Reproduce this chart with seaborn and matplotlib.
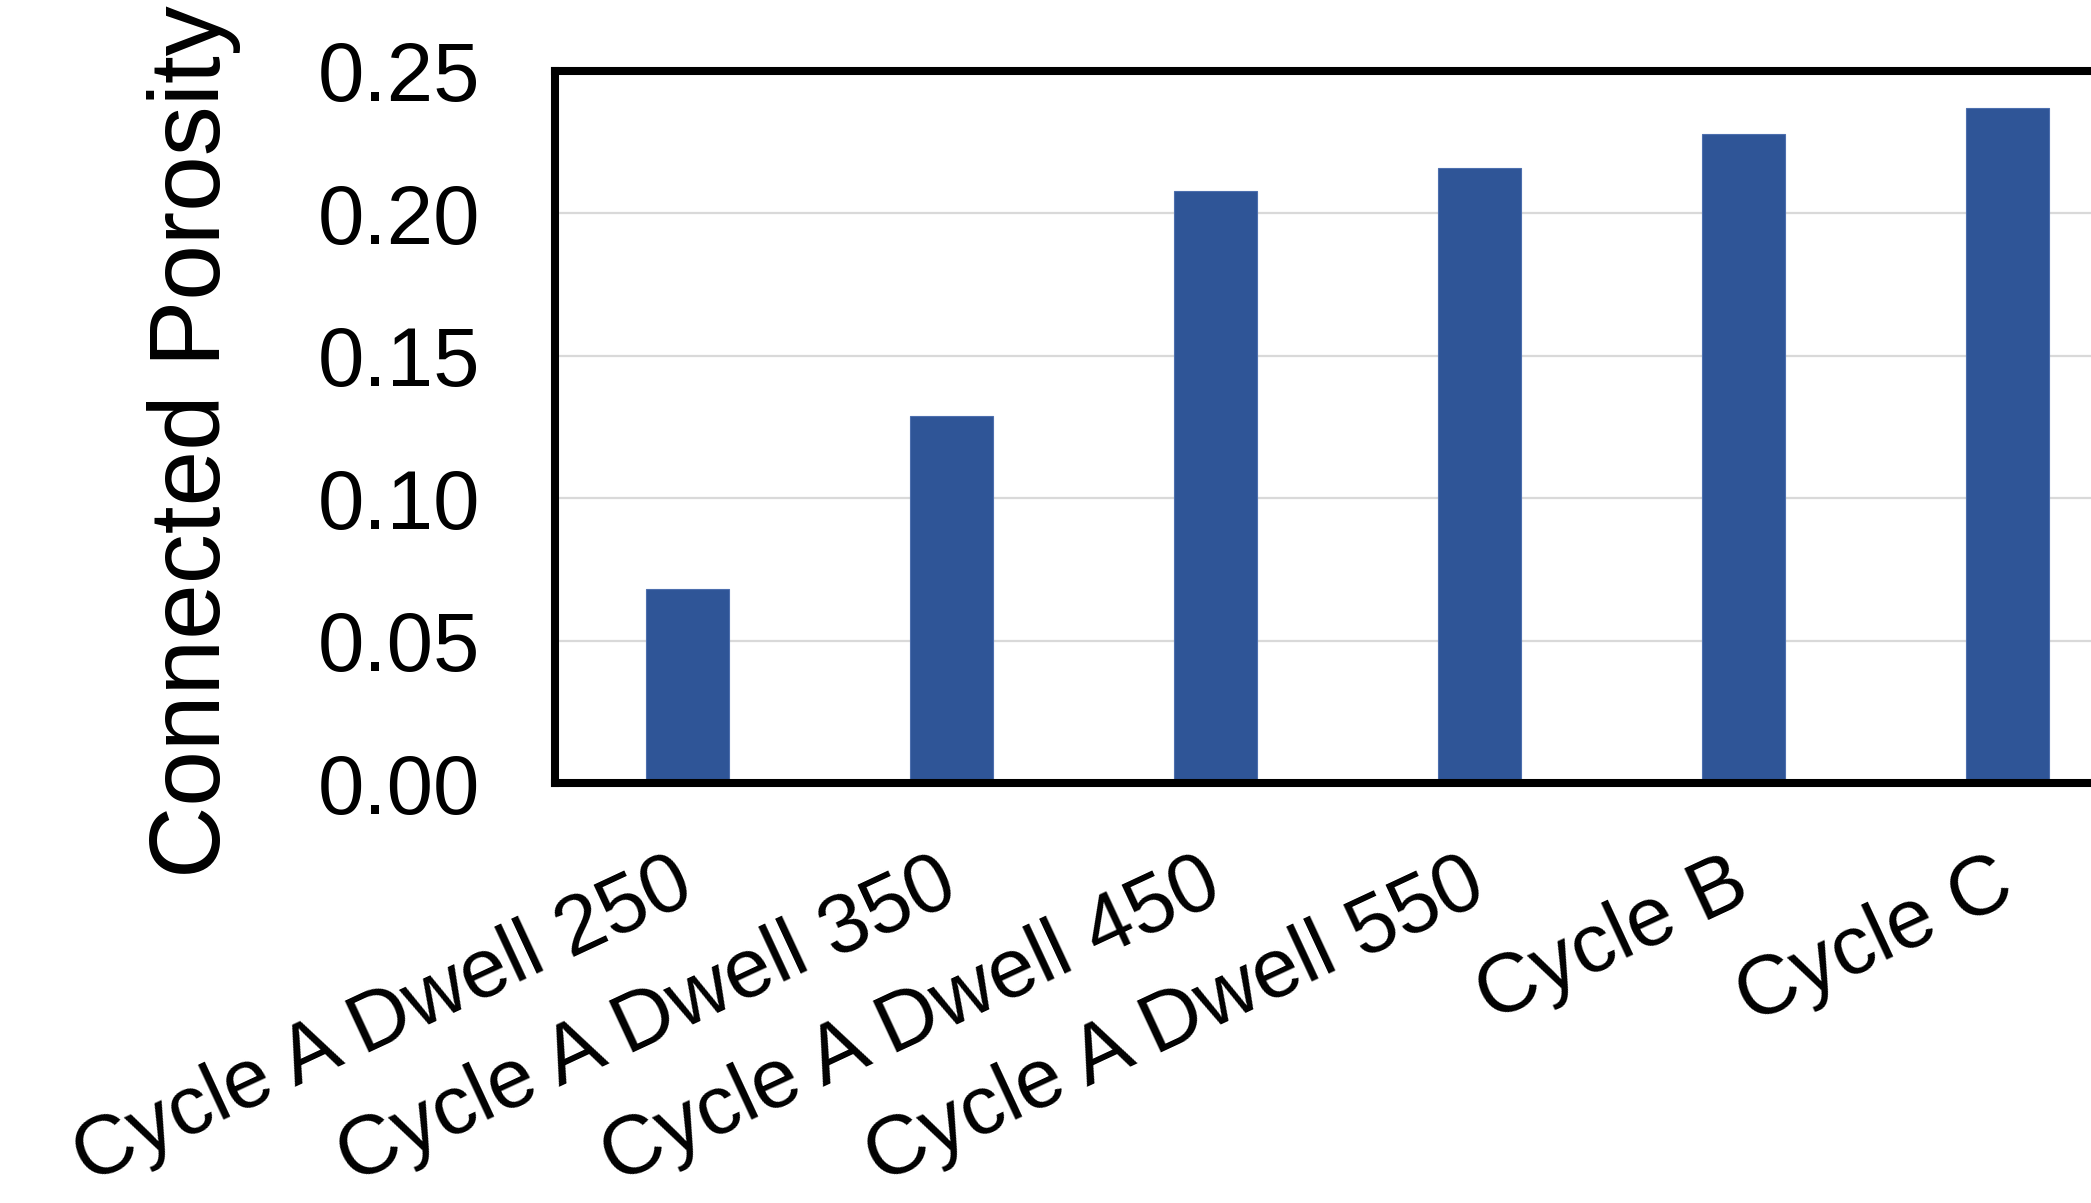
import matplotlib
matplotlib.use("Agg")
import matplotlib.pyplot as plt
import matplotlib.transforms as mtransforms
import seaborn as sns
import pandas as pd

# Connected porosity by processing cycle
categories = [
    "Cycle A Dwell 250",
    "Cycle A Dwell 350",
    "Cycle A Dwell 450",
    "Cycle A Dwell 550",
    "Cycle B",
    "Cycle C",
]
porosity = [0.068, 0.129, 0.208, 0.216, 0.228, 0.237]
y_ticks = [0.00, 0.05, 0.10, 0.15, 0.20, 0.25]

sns.set_style("white")
plt.rcParams["font.family"] = ["Liberation Sans", "DejaVu Sans"]

df = pd.DataFrame({"sample": categories, "porosity": porosity})

fig = plt.figure(figsize=(20.91, 12.03), dpi=100)
# the plotting frame runs past the right edge of the canvas
ax = fig.add_axes([0.2654, 0.349, 0.758, 0.592])

sns.barplot(data=df, x="sample", y="porosity", color="#2F5597",
            width=0.314, edgecolor="#4d6fae", linewidth=0.8,
            saturation=1, ax=ax, zorder=3)

ax.set_xlim(-0.5, len(categories) - 0.5)
ax.set_ylim(0, 0.25)
ax.set_yticks(y_ticks)
ax.set_yticklabels([f"{v:.2f}" for v in y_ticks])

ax.yaxis.grid(True, color="#d9d9d9", linewidth=1.6, zorder=0)
ax.xaxis.grid(False)
ax.set_axisbelow(True)

for side in ["left", "bottom", "top", "right"]:
    ax.spines[side].set_visible(True)
    ax.spines[side].set_color("black")
    ax.spines[side].set_linewidth(5.8)
    ax.spines[side].set_zorder(5)

ax.tick_params(axis="y", length=0, pad=54, labelsize=60, colors="black")
ax.tick_params(axis="x", length=0, pad=44, labelsize=60.5, colors="black")
shift = mtransforms.ScaledTranslation(0.17, 0, fig.dpi_scale_trans)
for lbl in ax.get_xticklabels():
    lbl.set_rotation(25)
    lbl.set_ha("right")
    lbl.set_va("top")
    lbl.set_transform(lbl.get_transform() + shift)

ax.set_xlabel("")
ax.set_ylabel("Connected Porosity", fontsize=72, color="black", va="center")
ax.yaxis.set_label_coords(-0.2276, 0.479)

fig.savefig("out.png", dpi=100, facecolor="white")
